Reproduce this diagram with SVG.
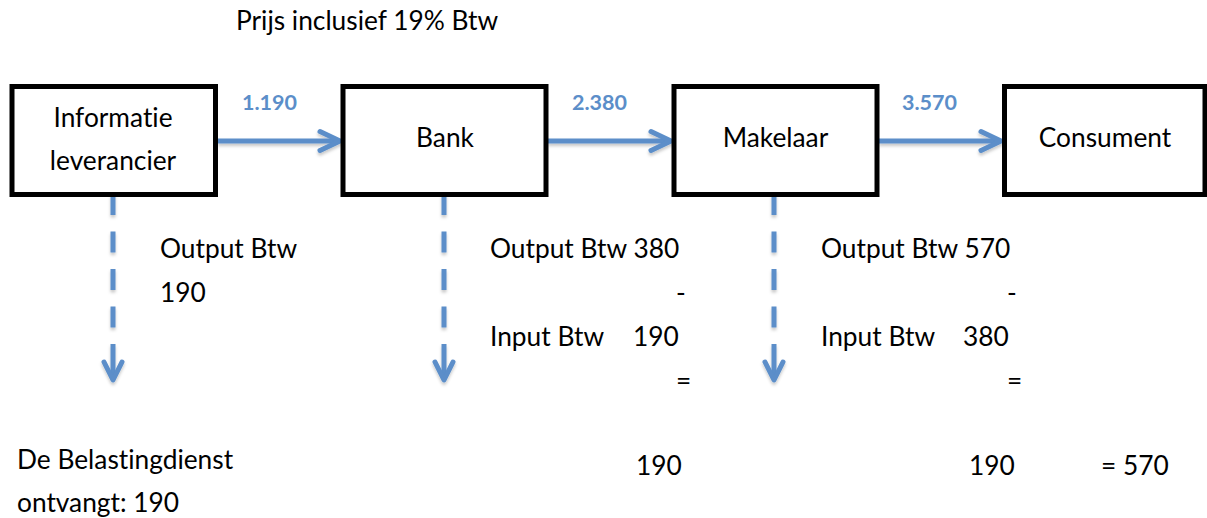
<svg xmlns="http://www.w3.org/2000/svg" width="1207" height="518" viewBox="0 0 1207 518">
  <style>
    .box { fill: #ffffff; stroke: #000000; stroke-width: 5; }
    .lbl { font-family: Lato, "Open Sans", sans-serif; font-size: 26.3px; fill: #000000; font-variant-ligatures: none; }
    .val { font-family: Lato, "Open Sans", sans-serif; font-size: 21.5px; font-weight: bold; fill: #5b8ec9; }
    .flow { fill: none; stroke: #5b8ec9; stroke-width: 5; }
    .head { fill: none; stroke: #5b8ec9; stroke-width: 5; stroke-linecap: round; stroke-linejoin: round; }
    .dash { fill: none; stroke: #5b8ec9; stroke-width: 5; stroke-dasharray: 21 16.5; }
  </style>
  <defs>
    <filter id="shadow" x="-20%" y="-20%" width="140%" height="160%">
      <feDropShadow dx="0" dy="2.5" stdDeviation="1.8" flood-color="#000000" flood-opacity="0.22"/>
    </filter>
  </defs>
  <rect width="1207" height="518" fill="#ffffff"/>

  <text class="lbl" x="236" y="30">Prijs inclusief 19% Btw</text>

  <!-- connectors -->
  <g id="connectors" filter="url(#shadow)">
    <!-- price flow between parties -->
    <line class="flow" x1="218" y1="141" x2="338" y2="141"/>
    <polyline class="head" points="320,131.5 340,141 320,150.5"/>
    <line class="flow" x1="548" y1="141" x2="669" y2="141"/>
    <polyline class="head" points="651,131.5 671,141 651,150.5"/>
    <line class="flow" x1="879" y1="141" x2="999" y2="141"/>
    <polyline class="head" points="981,131.5 1001,141 981,150.5"/>

    <!-- VAT paid to the tax office -->
    <line class="dash" x1="113" y1="194" x2="113" y2="340"/>
    <line class="flow" x1="113" y1="344" x2="113" y2="378"/>
    <polyline class="head" points="104,362 113,380 122,362"/>
    <line class="dash" x1="444" y1="194" x2="444" y2="340"/>
    <line class="flow" x1="444" y1="344" x2="444" y2="378"/>
    <polyline class="head" points="435,362 444,380 453,362"/>
    <line class="dash" x1="774" y1="194" x2="774" y2="340"/>
    <line class="flow" x1="774" y1="344" x2="774" y2="378"/>
    <polyline class="head" points="765,362 774,380 783,362"/>
  </g>

  <text class="val" x="242" y="110">1.190</text>
  <text class="val" x="572" y="110">2.380</text>
  <text class="val" x="902" y="110">3.570</text>

  <g id="informatie-leverancier">
    <rect class="box" x="12" y="86.5" width="203.5" height="108"/>
    <text class="lbl" x="113" y="127" text-anchor="middle">Informatie</text>
    <text class="lbl" x="113" y="170" text-anchor="middle">leverancier</text>
  </g>
  <g id="bank">
    <rect class="box" x="343" y="86.5" width="203" height="108"/>
    <text class="lbl" x="445" y="146.5" text-anchor="middle">Bank</text>
  </g>
  <g id="makelaar">
    <rect class="box" x="674" y="86.5" width="203" height="108"/>
    <text class="lbl" x="775.5" y="146.5" text-anchor="middle">Makelaar</text>
  </g>
  <g id="consument">
    <rect class="box" x="1004.5" y="86.5" width="200.5" height="108"/>
    <text class="lbl" x="1105" y="146.5" text-anchor="middle">Consument</text>
  </g>

  <!-- VAT calculation per party -->
  <g id="btw-leverancier">
    <text class="lbl" x="160" y="258">Output Btw</text>
    <text class="lbl" x="160" y="302">190</text>
  </g>
  <g id="btw-bank">
    <text class="lbl" x="490" y="258">Output Btw 380</text>
    <text class="lbl" x="676" y="302">-</text>
    <text class="lbl" x="490" y="345.5">Input Btw</text>
    <text class="lbl" x="633" y="345.5">190</text>
    <text class="lbl" x="676" y="389.5">=</text>
    <text class="lbl" x="636" y="475">190</text>
  </g>
  <g id="btw-makelaar">
    <text class="lbl" x="821" y="258">Output Btw 570</text>
    <text class="lbl" x="1007" y="302">-</text>
    <text class="lbl" x="821" y="345.5">Input Btw</text>
    <text class="lbl" x="963" y="345.5">380</text>
    <text class="lbl" x="1007" y="389.5">=</text>
    <text class="lbl" x="969" y="475">190</text>
  </g>
  <text class="lbl" x="1101" y="475">= 570</text>

  <g id="belastingdienst">
    <text class="lbl" x="17" y="468.5">De Belastingdienst</text>
    <text class="lbl" x="17" y="511.5">ontvangt: 190</text>
  </g>
</svg>
